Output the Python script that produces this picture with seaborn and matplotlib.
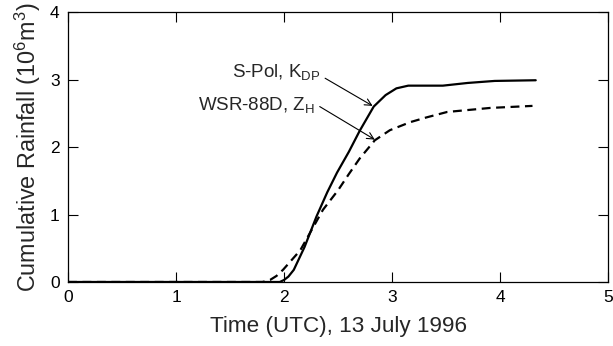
import matplotlib.pyplot as plt
import numpy as np
import pandas as pd
import seaborn as sns

# Cumulative rainfall (time in hours UTC, volume in 10^6 m^3)
t_spol = [0, 1.0, 1.9, 1.96, 2.0, 2.04, 2.09, 2.19, 2.30, 2.40, 2.49, 2.60, 2.70,
          2.83, 2.94, 3.04, 3.15, 3.30, 3.47, 3.70, 3.95, 4.33]
spol = [0, 0, 0, 0.0, 0.03, 0.08, 0.18, 0.52, 0.97, 1.33, 1.62, 1.93, 2.24,
        2.60, 2.77, 2.87, 2.91, 2.91, 2.91, 2.95, 2.98, 2.99]

t_wsr = [0, 1.0, 1.8, 1.87, 1.93, 1.99, 2.15, 2.36, 2.50, 2.60, 2.70, 2.84, 2.98,
         3.17, 3.32, 3.51, 3.91, 4.30]
wsr = [0, 0, 0, 0.03, 0.09, 0.18, 0.47, 1.07, 1.36, 1.60, 1.83, 2.10, 2.25,
       2.37, 2.44, 2.52, 2.58, 2.61]

x_ticks = [0, 1, 2, 3, 4, 5]
y_ticks = [0, 1, 2, 3, 4]

df = pd.concat([
    pd.DataFrame({"time": t_spol, "rain": spol, "radar": "S-Pol"}),
    pd.DataFrame({"time": t_wsr, "rain": wsr, "radar": "WSR-88D"}),
])

sns.set_theme(style="ticks")
plt.rcParams["font.family"] = ["Liberation Sans", "DejaVu Sans"]
plt.rcParams["mathtext.fontset"] = "custom"
plt.rcParams["mathtext.rm"] = "Liberation Sans"
plt.rcParams["mathtext.it"] = "Liberation Sans"

fig = plt.figure(figsize=(6.13, 3.46), dpi=100)
ax = fig.add_axes([0.111, 0.185, 0.881, 0.78])

sns.lineplot(data=df, x="time", y="rain", style="radar",
             dashes={"S-Pol": "", "WSR-88D": (4, 2.5)},
             color="black", linewidth=1.6, legend=False, ax=ax,
             estimator=None, sort=False)

ax.set_xlim(0, 5)
ax.set_ylim(0, 4)
ax.set_xticks(x_ticks)
ax.set_yticks(y_ticks)
ax.tick_params(direction="in", length=7, width=0.8, top=True, right=True,
               labelsize=12.5, colors="black", pad=6)
for s in ax.spines.values():
    s.set_linewidth(0.9)
    s.set_color("black")
    s.set_visible(True)

ax.set_xlabel("Time (UTC), 13 July 1996", fontsize=16.2, labelpad=8)
ax.set_ylabel("Cumulative Rainfall (10$^6$m$^3$)", fontsize=16.8, labelpad=5)

# labels and their arrows
ax.text(2.34, 3.04, "S-Pol, K$_{\\rm DP}$", ha="right", va="baseline", fontsize=13.5)
ax.text(2.29, 2.55, "WSR-88D, Z$_{\\rm H}$", ha="right", va="baseline", fontsize=13.5)
arrow = dict(arrowstyle="->", color="black", lw=0.8, shrinkA=0, shrinkB=0)
ax.annotate("", xy=(2.82, 2.61), xytext=(2.38, 3.02), arrowprops=arrow)
ax.annotate("", xy=(2.84, 2.11), xytext=(2.33, 2.60), arrowprops=arrow)

fig.savefig("out.png", dpi=100)
